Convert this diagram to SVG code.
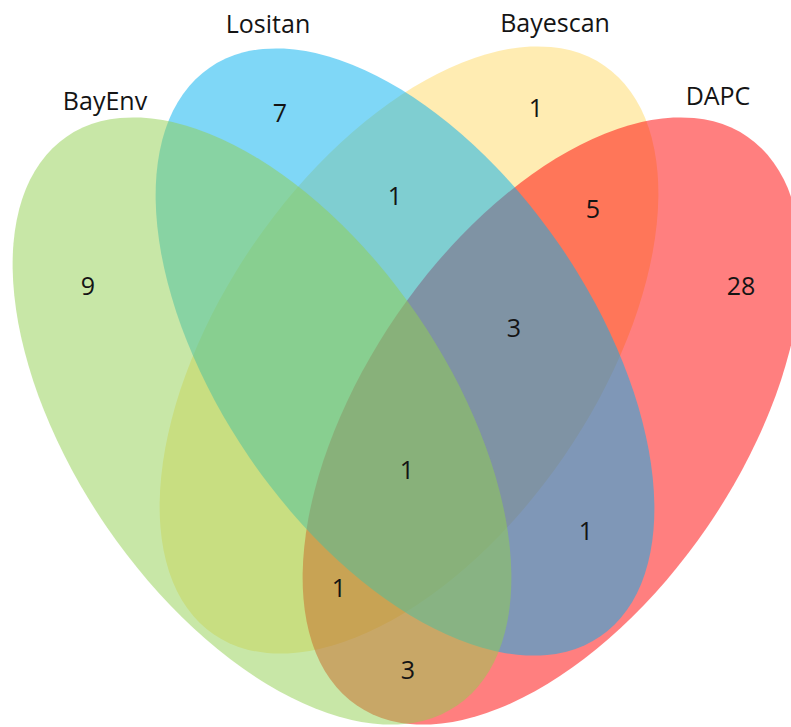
<svg xmlns="http://www.w3.org/2000/svg" width="791" height="727" viewBox="0 0 791 727">
<style>
text{font-family:"Open Sans","Liberation Sans",sans-serif;font-size:25px;fill:#141414;text-anchor:middle}
.set{stroke:none}
</style>
<rect width="791" height="727" fill="#fff"/>
<g id="Bayescan"><ellipse class="set" cx="0" cy="0" rx="345" ry="188" fill="#ffc000" fill-opacity="0.3" transform="translate(409,350) rotate(-55.5)"/><text x="555" y="32">Bayescan</text></g>
<g id="DAPC"><ellipse class="set" cx="0" cy="0" rx="345" ry="188" fill="#ff0000" fill-opacity="0.5" transform="translate(552,421) rotate(-55.5)"/><text x="718" y="105">DAPC</text></g>
<g id="Lositan"><ellipse class="set" cx="0" cy="0" rx="345" ry="188" fill="#00b0f0" fill-opacity="0.5" transform="translate(405,352) rotate(55.5)"/><text x="268" y="33">Lositan</text></g>
<g id="BayEnv"><ellipse class="set" cx="0" cy="0" rx="345" ry="188" fill="#92d050" fill-opacity="0.5" transform="translate(262,421) rotate(55.5)"/><text x="105" y="110">BayEnv</text></g>
<g id="counts">
<text x="88" y="295">9</text>
<text x="280" y="122">7</text>
<text x="536" y="117">1</text>
<text x="395" y="205">1</text>
<text x="593" y="218">5</text>
<text x="741" y="295">28</text>
<text x="514" y="337">3</text>
<text x="407" y="479">1</text>
<text x="339" y="597">1</text>
<text x="586" y="540">1</text>
<text x="408" y="679">3</text>
</g>
<g id="connectors"/>
</svg>
